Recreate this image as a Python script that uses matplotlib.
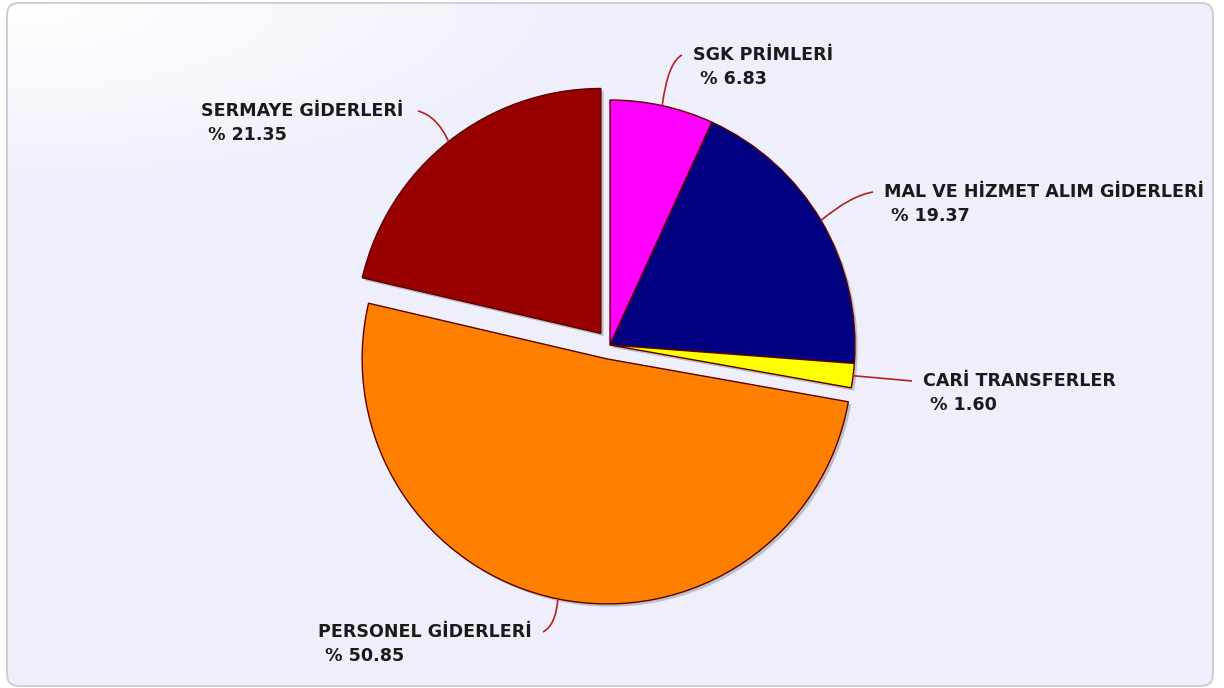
import numpy as np
import matplotlib
matplotlib.use("Agg")
import matplotlib.pyplot as plt
from matplotlib.patches import FancyBboxPatch, PathPatch
from matplotlib.path import Path
import matplotlib.patheffects as pe

categories = ["SGK PRİMLERİ", "MAL VE HİZMET ALIM GİDERLERİ", "CARİ TRANSFERLER",
              "PERSONEL GİDERLERİ", "SERMAYE GİDERLERİ"]
values = [6.83, 19.37, 1.60, 50.85, 21.35]
colors = ["#FF00FF", "#000080", "#FFFF00", "#FF8000", "#990000"]
explode = [0, 0, 0, 0.058, 0.06]

W, H = 1224, 688
FS = 12.6
fig = plt.figure(figsize=(W / 100, H / 100), dpi=100)
fig.patch.set_facecolor("white")
ax = fig.add_axes([0, 0, 1, 1])

# background panel with gradient
grad_n = 300
GX, GY = np.meshgrid(np.linspace(0, 1, grad_n), np.linspace(0, 1, grad_n))
t = np.clip(np.sqrt(GX ** 2 + ((1 - GY) * 1.8) ** 2) / 0.5, 0, 1)
base = np.array([0xEF, 0xEF, 0xFC]) / 255.0
img = (1 - t[..., None]) * 1.0 + base[None, None, :] * t[..., None]
panel = FancyBboxPatch((7, 2), 1206, 683, boxstyle="round,pad=0,rounding_size=12",
                       facecolor="none", edgecolor="#CFCFD6", linewidth=1.5, zorder=2)
ax.add_patch(panel)
im = ax.imshow(img, extent=(7, 1213, 2, 685), origin="lower", zorder=1, aspect="auto")
im.set_clip_path(panel)

cx, cy, R = 610, H - 345, 245
wedges, _ = ax.pie(values, colors=colors, explode=[e * R for e in explode], startangle=90,
                   counterclock=False, radius=R, center=(cx, cy), frame=True,
                   wedgeprops=dict(edgecolor="#5E0000", linewidth=1.0, zorder=3))
for w in wedges:
    w.set_path_effects([pe.SimplePatchShadow(offset=(2, -2), shadow_rgbFace="#777777", alpha=0.4),
                        pe.Normal()])
ax.set_xlim(0, W)
ax.set_ylim(0, H)
ax.set_aspect("equal")
ax.axis("off")

# leader line layout: bend point, end point, text side, gap
leaders = [
    dict(bend=(668, H - 62), end=(682, H - 55), ha="left", gap=11),
    dict(bend=(850, H - 196), end=(873, H - 192), ha="left", gap=11),
    dict(bend=(890, H - 379), end=(912, H - 381), ha="left", gap=11),
    dict(bend=(556, H - 625), end=(543, H - 632), ha="right", gap=11),
    dict(bend=(437, H - 116), end=(418, H - 111), ha="right", gap=15),
]

cum = np.cumsum([0] + values)
total = sum(values)
fig.canvas.draw()
for i, (cat, v) in enumerate(zip(categories, values)):
    mid = (cum[i] + cum[i + 1]) / 2 / total * 360
    ang = np.deg2rad(90 - mid)
    r = R * (1 + explode[i])
    sx, sy = cx + r * np.cos(ang), cy + r * np.sin(ang)
    L = leaders[i]
    path = Path([(sx, sy), L["bend"], L["end"]], [Path.MOVETO, Path.CURVE3, Path.CURVE3])
    ax.add_patch(PathPatch(path, facecolor="none", edgecolor="#B22222", linewidth=1.2, zorder=4))
    ex, ey = L["end"]
    tx = ex + L["gap"] if L["ha"] == "left" else ex - L["gap"]
    t1 = ax.text(tx, ey, cat, ha=L["ha"], va="center", fontsize=FS, fontweight="bold",
                 family="DejaVu Sans", color="#1A1A1A", zorder=5)
    bb = t1.get_window_extent(renderer=fig.canvas.get_renderer()).transformed(ax.transData.inverted())
    ax.text(bb.x0 + 7, ey - 24, f"% {v:.2f}", ha="left", va="center", fontsize=FS,
            fontweight="bold", family="DejaVu Sans", color="#1A1A1A", zorder=5)

fig.savefig("out.png", dpi=100, facecolor=fig.get_facecolor())
